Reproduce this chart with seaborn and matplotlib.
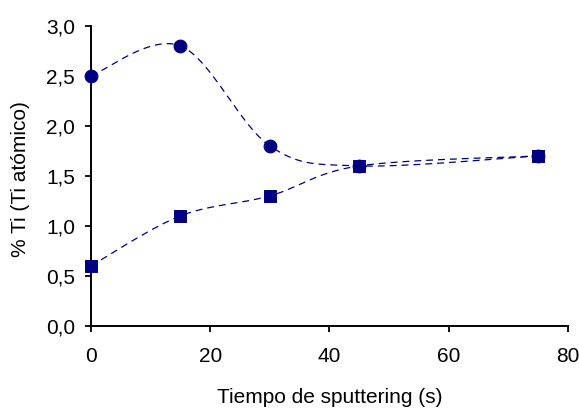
import numpy as np
import pandas as pd
import matplotlib
matplotlib.use("Agg")
import matplotlib.pyplot as plt
from matplotlib.ticker import FuncFormatter, MultipleLocator
import seaborn as sns

tiempo = [0, 15, 30, 45, 75]
ti_circulos = [2.5, 2.8, 1.8, 1.6, 1.7]
ti_cuadrados = [0.6, 1.1, 1.3, 1.6, 1.7]

color = "#000080"


def suavizar(x, y, n=40):
    """Curva suave tipo Excel (Catmull-Rom) a partir de los puntos."""
    p = np.column_stack([x, y]).astype(float)
    p = np.vstack([p[0], p, p[-1]])
    out = []
    t = np.linspace(0, 1, n)[:, None]
    for i in range(1, len(p) - 2):
        p0, p1, p2, p3 = p[i - 1], p[i], p[i + 1], p[i + 2]
        c1 = p1 + (p2 - p0) / 6
        c2 = p2 - (p3 - p1) / 6
        seg = ((1 - t) ** 3) * p1 + 3 * ((1 - t) ** 2) * t * c1 + 3 * (1 - t) * t ** 2 * c2 + t ** 3 * p2
        out.append(seg)
    out = np.vstack(out)
    return pd.DataFrame({"x": out[:, 0], "y": out[:, 1]})


sns.set_style("ticks")
plt.rcParams["font.family"] = ["Liberation Sans", "DejaVu Sans"]
plt.rcParams["text.color"] = "black"
plt.rcParams["axes.labelcolor"] = "black"
plt.rcParams["xtick.color"] = "black"
plt.rcParams["ytick.color"] = "black"

fig, ax = plt.subplots(figsize=(5.79, 4.11), dpi=100)
fig.subplots_adjust(left=0.157, right=0.981, top=0.937, bottom=0.207)

for serie, marcador, tam in [(ti_circulos, "o", 85), (ti_cuadrados, "s", 75)]:
    curva = suavizar(tiempo, serie)
    sns.lineplot(data=curva, x="x", y="y", ax=ax, color=color, lw=0.9,
                 sort=False, estimator=None, linestyle=(0, (5.5, 4)))
    sns.scatterplot(x=tiempo, y=serie, ax=ax, marker=marcador, s=tam,
                    color=color, edgecolor=color, zorder=3, clip_on=False)

ax.set_xlim(0, 80)
ax.set_ylim(0, 3.0)
ax.xaxis.set_major_locator(MultipleLocator(20))
ax.yaxis.set_major_locator(MultipleLocator(0.5))
ax.yaxis.set_major_formatter(FuncFormatter(lambda v, _: f"{v:.1f}".replace(".", ",")))
ax.tick_params(labelsize=15, length=4.5, width=1.3, color="black", labelcolor="black")
ax.tick_params(axis="x", pad=11)
ax.tick_params(axis="y", pad=7)
for s in ["left", "bottom"]:
    ax.spines[s].set_linewidth(1.4)
    ax.spines[s].set_color("black")
sns.despine(ax=ax)

ax.set_xlabel("Tiempo de sputtering (s)", fontsize=15, va="center", color="black")
ax.xaxis.set_label_coords(0.5, -0.24)
ax.set_ylabel("% Ti (Ti atómico)", fontsize=15, va="center", color="black")
ax.yaxis.set_label_coords(-0.147, 0.49)

fig.savefig("out.png", dpi=100)
